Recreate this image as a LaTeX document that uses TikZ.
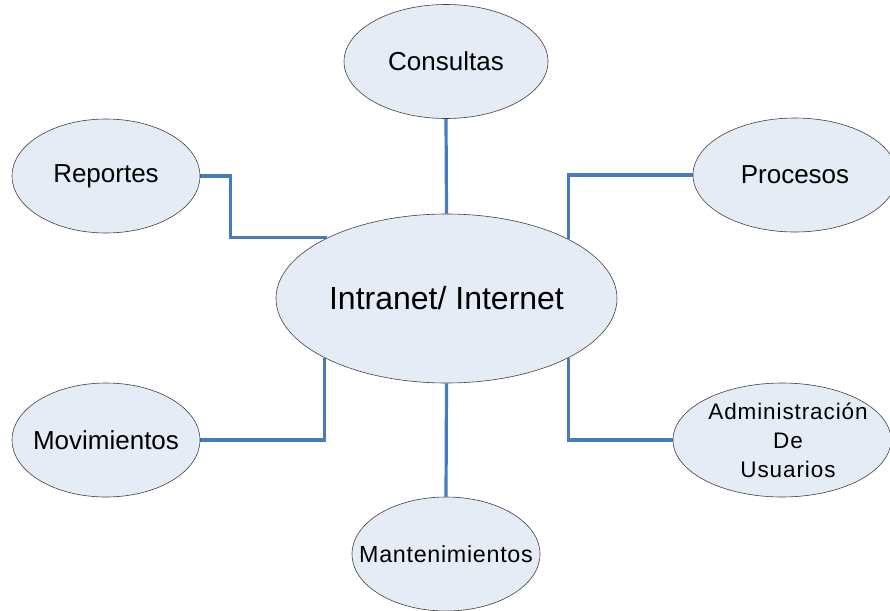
\documentclass[tikz,border=0pt]{standalone}
\usepackage{fontspec}
\setmainfont{Liberation Sans}
\usetikzlibrary{shapes.geometric,backgrounds}
\definecolor{bubblefill}{RGB}{230,236,246}
\definecolor{bubbleedge}{RGB}{64,64,64}
\definecolor{linkblue}{RGB}{72,122,192}

% zero-width label so the ellipse keeps its set size
\newcommand{\bubbletext}[1]{\makebox[0pt]{#1}}

\begin{document}
\begin{tikzpicture}[x=1pt,y=-1pt,
  bubble/.style={ellipse, draw=bubbleedge, line width=0.6pt, fill=bubblefill,
    inner sep=0pt, align=center, font=\fontsize{26}{30}\selectfont},
  small/.style={minimum width=188pt, minimum height=114pt},
  wide/.style={minimum width=204pt, minimum height=114pt},
  link/.style={draw=linkblue, line width=3.2pt}]
\useasboundingbox (0,0) rectangle (890,610);
\clip (0,0) rectangle (890,610);

% central hub
\node[bubble, minimum width=341pt, minimum height=169pt,
      font=\fontsize{32}{38}\selectfont] (hub) at (446.5,298.5) {\bubbletext{Intranet/ Internet}};

% surrounding modules
\node[bubble, wide]  (cons) at (446,61.5) {\bubbletext{Consultas}};
\node[bubble, small] (rep)  at (106,176)  {\bubbletext{Reportes}};
\node[bubble, wide]  (proc) at (795,175)  {\bubbletext{Procesos}};
\node[bubble, small] (mov)  at (106,440)  {\bubbletext{Movimientos}};
\node[bubble, minimum width=218pt, minimum height=114pt] (adm) at (782,440) {};
\node[align=center, inner sep=0pt,
      font=\fontsize{22.5}{29}\selectfont\addfontfeatures{LetterSpace=4}]
      (admtext) at (788,440) {Administración\\De\\Usuarios};
\node[bubble, small, font=\fontsize{23.3}{28}\selectfont\addfontfeatures{LetterSpace=3}]
      (mant) at (446,554) {\bubbletext{Mantenimientos}};

% connectors
\begin{pgfonlayer}{background}
  \draw[link] (cons.south) -- (hub.north);
  \draw[link] (mant.north) -- (hub.south);
  \draw[link] (rep.east) -- ++(30,0) |- (hub.153.3);
  \draw[link] (proc.west) -| (hub.26.4);
  \draw[link] (mov.east) -| (hub.206.4);
  \draw[link] (adm.west) -| (hub.-26.4);
\end{pgfonlayer}
\end{tikzpicture}
\end{document}
